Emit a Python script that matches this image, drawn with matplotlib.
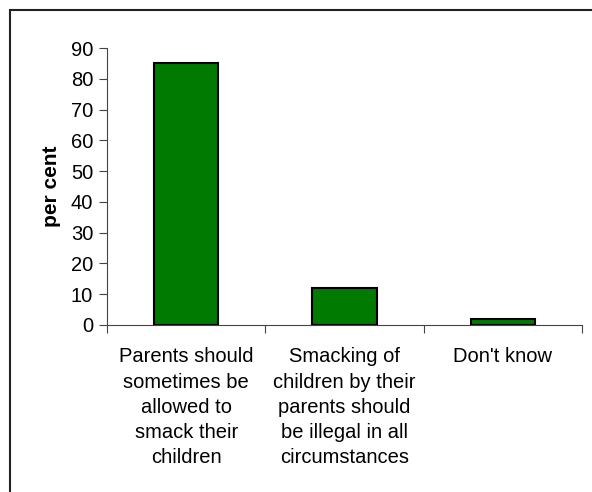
import matplotlib.pyplot as plt
import matplotlib.patches as mpatches
import numpy as np

## Datos del gráfico
categorias = ['Parents should\nsometimes be\nallowed to\nsmack their\nchildren',
              'Smacking of\nchildren by their\nparents should\nbe illegal in all\ncircumstances',
              "Don't know"]
valores = [85, 12, 2]
ticks_y = [0, 10, 20, 30, 40, 50, 60, 70, 80, 90]

plt.rcParams['font.family'] = ['Liberation Sans', 'DejaVu Sans']

fig = plt.figure(figsize=(5.92, 4.92), dpi=100)
ax = fig.add_axes([107/592, 1 - 325/492, 475/592, 277/492])

x = np.arange(len(categorias))
ax.bar(x, valores, width=0.405, color='#007A00', edgecolor='black', linewidth=1.5)

ax.set_xlim(-0.5, len(categorias) - 0.5)
ax.set_ylim(0, 90)
ax.set_yticks(ticks_y)
ax.tick_params(axis='y', labelsize=14.5, length=6, width=0.8, color='#444444', pad=4)

## Etiquetas centradas bajo las barras, marcas en los limites de categoria
ax.set_xticks(x)
ax.set_xticklabels(categorias, fontsize=14.5, linespacing=1.42, va='top')
ax.tick_params(axis='x', which='major', length=0, pad=16)
ax.set_xticks(np.arange(len(categorias) + 1) - 0.5, minor=True)
ax.tick_params(axis='x', which='minor', length=6, width=0.8, color='#444444')

for lado in ['top', 'right']:
    ax.spines[lado].set_visible(False)
for lado in ['left', 'bottom']:
    ax.spines[lado].set_color('#444444')
    ax.spines[lado].set_linewidth(0.8)

ax.set_ylabel('per cent', fontsize=15, fontweight='bold', labelpad=7)

## Marco exterior
marco = mpatches.Rectangle((10/592, -0.1), 1.2, 1 - 10/492 + 0.1, transform=fig.transFigure,
                           fill=False, edgecolor='#222222', linewidth=1.5, clip_on=False)
fig.patches.append(marco)

plt.savefig('out.png', dpi=100)
